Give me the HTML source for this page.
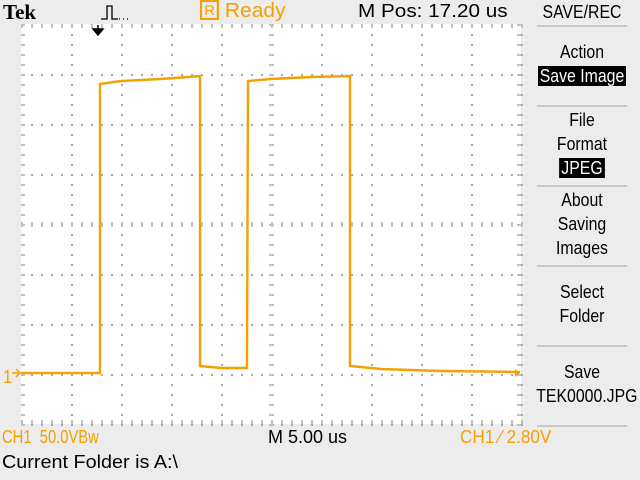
<!DOCTYPE html>
<html><head><meta charset="utf-8"><style>
body{margin:0;width:640px;height:480px;background:#ececec;overflow:hidden;font-family:"Liberation Sans",sans-serif}
svg{position:absolute;left:0;top:0}
.t{position:absolute;font-size:18px;white-space:nowrap;line-height:1;transform:scaleX(0.9);transform-origin:left top}
.o{color:#f5a000}
.m{position:absolute;left:530px;width:104px;text-align:center;font-size:18px;line-height:24px;transform:scaleX(0.88)}
.inv{background:#000;color:#fff;padding:0 2px}
</style></head><body>
<svg width="640" height="480">
<rect x="21" y="24" width="500" height="400" fill="#fff"/>
<g id="grid"></g>
<g id="seps"></g>
<polyline id="wave" fill="none" stroke="#f5a000" stroke-width="2.4"/>
<path d="M93 29 h10 l-5 6 z M98 25 v6" stroke="#000" stroke-width="1.5" fill="#000"/>
<path d="M101 19 h6 v-13 h5 v13 h6 M119 19 h1 M123 19 h1 M127 19 h1" stroke="#000" stroke-width="1.3" fill="none"/>
<path d="M520 373 l-5 -4 v8 z" fill="#f5a000"/>
<path d="M12 373 h8 M16 369 l4 4 l-4 4" stroke="#f5a000" stroke-width="1.5" fill="none"/>
</svg>
<div class="t" style="left:3px;top:2px;font-family:'Liberation Serif',serif;font-weight:bold;font-size:21px;transform:none">Tek</div>
<div class="t o" style="left:200px;top:1px;font-size:20px;transform:scaleX(1.05)"><span style="border:2px solid #f5a000;padding:0 2px;font-size:14px;vertical-align:2px">R</span> Ready</div>
<div class="t" style="left:358px;top:2px;transform:scaleX(1.15)">M Pos: 17.20 us</div>
<div class="t o" style="left:3px;top:368px">1</div>
<div class="m" style="top:0px">SAVE/REC</div>
<div class="m" style="top:40px">Action<br><span class="inv">Save Image</span></div>
<div class="m" style="top:108px">File<br>Format<br><span class="inv">JPEG</span></div>
<div class="m" style="top:188px">About<br>Saving<br>Images</div>
<div class="m" style="top:280px">Select<br>Folder</div>
<div class="m" style="top:360px">Save<br>TEK0000.JPG</div>
<div class="t o" style="left:2px;top:428px;transform:scaleX(0.82)">CH1&nbsp; 50.0VBw</div>
<div class="t" style="left:268px;top:428px;transform:scaleX(1.0)">M 5.00 us</div>
<div class="t o" style="left:460px;top:428px;transform:scaleX(0.95)">CH1 ⁄ 2.80V</div>
<div class="t" style="left:2px;top:453px;transform:scaleX(1.1)">Current Folder is A:\</div>
<script>
const times=[0,7.9,7.9,10,14,17.9,17.9,20,22.6,22.7,25,29,32.9,32.9,36,42,49.9];
const volts=[0,0,289,292,294,297,7,5,5,292,294,296,297,7,4,2,1];
const X0=21,Y0=373,pxPerUs=10,pxPerV=1;
const xs=t=>X0+t*pxPerUs, ys=v=>Y0-v*pxPerV;
const w=document.getElementById('wave');
w.setAttribute('points',times.map((t,i)=>xs(t)+','+ys(volts[i])).join(' '));
const ns='http://www.w3.org/2000/svg',g=document.getElementById('grid');
function r(x,y,wd,h,c){const e=document.createElementNS(ns,'rect');e.setAttribute('x',x);e.setAttribute('y',y);e.setAttribute('width',wd);e.setAttribute('height',h);e.setAttribute('fill',c);g.appendChild(e);return e;}
for(let i=0;i<=10;i++)for(let y=24;y<=424;y+=10){r(21+i*50,y,2,2,'#a8a8a8');}
for(let j=0;j<=8;j++)for(let x=21;x<=521;x+=10){r(x,24+j*50,2,2,'#a8a8a8');}
for(let x=21;x<=521;x+=10){r(x,24,2,4,'#c0c0c0');r(x,420,2,4,'#c0c0c0');r(x,222,2,5,'#c0c0c0');}
for(let y=24;y<=424;y+=10){r(21,y,4,2,'#c0c0c0');r(517,y,4,2,'#c0c0c0');r(269,y,5,2,'#c0c0c0');}
const s=document.getElementById('seps');
[25,105,185,265,345,425].forEach(y=>{const e=document.createElementNS(ns,'rect');e.setAttribute('x',537);e.setAttribute('y',y);e.setAttribute('width',90);e.setAttribute('height',2);e.setAttribute('fill','#c8c8c8');s.appendChild(e);});
</script>
</body></html>
